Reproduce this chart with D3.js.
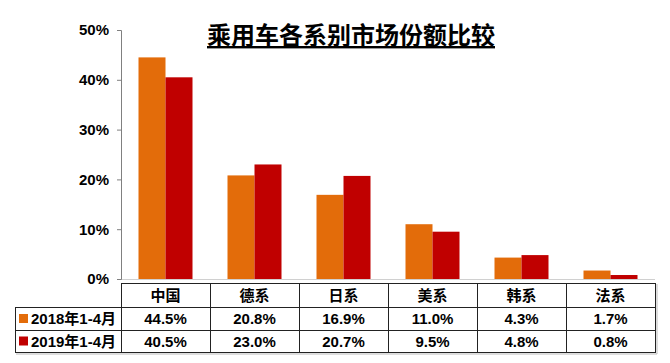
<!DOCTYPE html>
<html>
<head>
<meta charset="utf-8">
<script src="https://cdn.jsdelivr.net/npm/d3@7"></script>
<style>
  body { margin: 0; background: #fff; }
  svg text { font-family: "Liberation Sans", Arial, "Noto Sans CJK SC", sans-serif; font-weight: bold; fill: #000; }
</style>
</head>
<body>
<svg id="chart" width="670" height="363"></svg>
<script>
const categories = ["中国", "德系", "日系", "美系", "韩系", "法系"];
const seriesNames = ["2018年1-4月", "2019年1-4月"];
const values2018 = [44.5, 20.8, 16.9, 11.0, 4.3, 1.7];
const values2019 = [40.5, 23.0, 20.7, 9.5, 4.8, 0.8];
const yTicks = [0, 10, 20, 30, 40, 50];
const colors = ["#E36C0A", "#C00000"];

const svg = d3.select("#chart");
const plotLeft = 121, plotRight = 655, plotTop = 30, plotBottom = 279;

const x = d3.scaleBand().domain(categories).range([plotLeft, plotRight]);
const sub = d3.scaleBand().domain(seriesNames).range([0, 54]);
const y = d3.scaleLinear().domain([0, 50]).range([plotBottom, plotTop]);

// title
svg.append("text")
  .attr("x", 351).attr("y", 44)
  .attr("text-anchor", "middle")
  .style("font-family", "'Noto Sans CJK SC', sans-serif")
  .style("font-size", "24px")
  .style("text-decoration", "underline")
  .text("乘用车各系别市场份额比较");

// bars
const series = [values2018, values2019];
series.forEach((vals, si) => {
  svg.append("g").selectAll("rect")
    .data(vals)
    .enter().append("rect")
      .attr("x", (d, i) => x(categories[i]) + x.bandwidth() / 2 - 27 + sub(seriesNames[si]))
      .attr("y", d => y(d))
      .attr("width", sub.bandwidth())
      .attr("height", d => plotBottom - y(d))
      .attr("fill", colors[si]);
});

// baseline
svg.append("line")
  .attr("x1", plotLeft).attr("x2", plotRight)
  .attr("y1", plotBottom + 0.5).attr("y2", plotBottom + 0.5)
  .attr("stroke", "#d0d0d0");

// y axis
const yAxis = svg.append("g")
  .attr("transform", `translate(${plotLeft},0)`)
  .call(d3.axisLeft(y).tickValues(yTicks).tickSize(4).tickPadding(8).tickFormat(d => d + "%"));
yAxis.select(".domain").attr("stroke", "#808080");
yAxis.selectAll(".tick line").attr("stroke", "#808080");
yAxis.selectAll(".tick text").style("font-size", "15px");

// data table
const rowTop = 283, rowH = [24, 23, 22];
const rows = [rowTop, rowTop + rowH[0], rowTop + rowH[0] + rowH[1], rowTop + rowH[0] + rowH[1] + rowH[2]];
const legendLeft = 15;
const tbl = svg.append("g");
const stroke = "#222";

// horizontal lines
tbl.append("line").attr("x1", plotLeft).attr("x2", plotRight).attr("y1", rows[0] + 0.5).attr("y2", rows[0] + 0.5).attr("stroke", stroke);
[1, 2, 3].forEach(r => {
  tbl.append("line").attr("x1", legendLeft).attr("x2", plotRight)
    .attr("y1", rows[r] + 0.5).attr("y2", rows[r] + 0.5).attr("stroke", stroke);
});
// vertical lines
tbl.append("line").attr("x1", legendLeft + 0.5).attr("x2", legendLeft + 0.5).attr("y1", rows[1]).attr("y2", rows[3] + 1).attr("stroke", stroke);
categories.forEach(c => {
  tbl.append("line").attr("x1", x(c) + 0.5).attr("x2", x(c) + 0.5).attr("y1", rows[0]).attr("y2", rows[3] + 1).attr("stroke", stroke);
});
tbl.append("line").attr("x1", plotRight + 0.5).attr("x2", plotRight + 0.5).attr("y1", rows[0]).attr("y2", rows[3] + 1).attr("stroke", stroke);
// faint shadow
tbl.append("line").attr("x1", legendLeft + 1).attr("x2", plotRight + 2).attr("y1", rows[3] + 2).attr("y2", rows[3] + 2).attr("stroke", "#bbb");
tbl.append("line").attr("x1", plotRight + 2).attr("x2", plotRight + 2).attr("y1", rows[0] + 1).attr("y2", rows[3] + 2).attr("stroke", "#bbb");

// header
tbl.selectAll(".hdr").data(categories).enter().append("text")
  .attr("x", d => x(d) + x.bandwidth() / 2)
  .attr("y", rows[0] + 18)
  .attr("text-anchor", "middle")
  .style("font-family", "'Noto Sans CJK SC', sans-serif")
  .style("font-size", "15px")
  .text(d => d);

// rows
series.forEach((vals, si) => {
  const yc = (rows[si + 1] + rows[si + 2]) / 2;
  tbl.append("rect")
    .attr("x", 19).attr("y", yc - 4.5).attr("width", 9).attr("height", 9)
    .attr("fill", colors[si]);
  tbl.append("text")
    .attr("x", 31).attr("y", yc + 5.5)
    .style("font-size", "15px")
    .text(seriesNames[si]);
  tbl.selectAll(null).data(vals).enter().append("text")
    .attr("x", (d, i) => x(categories[i]) + x.bandwidth() / 2)
    .attr("y", yc + 5.5)
    .attr("text-anchor", "middle")
    .style("font-size", "15px")
    .text(d => d.toFixed(1) + "%");
});
</script>
</body>
</html>
